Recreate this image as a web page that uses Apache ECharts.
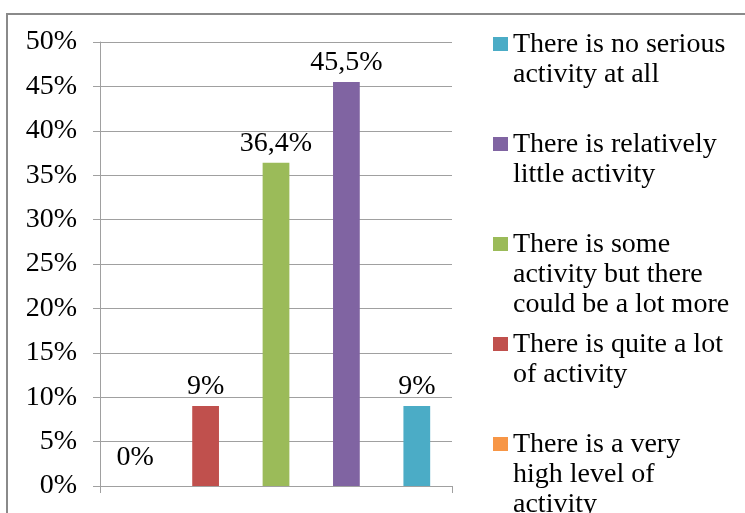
<!DOCTYPE html>
<html>
<head>
<meta charset="utf-8">
<title>Level of activity</title>
<script src="https://cdn.jsdelivr.net/npm/echarts@6/dist/echarts.min.js"></script>
<style>
  html, body { margin: 0; padding: 0; background: #ffffff; }
  #chart { width: 745px; height: 513px; }
</style>
</head>
<body>
<div id="chart"></div>
<script>
// Answer categories, left to right along the x axis
const categories = [
  'There is a very high level of activity',
  'There is quite a lot of activity',
  'There is some activity but there could be a lot more',
  'There is relatively little activity',
  'There is no serious activity at all'
];

// Share of respondents per answer, in percent
const values = [0, 9, 36.4, 45.5, 9];

// Bar colour per answer
const colors = ['#F79646', '#C0504D', '#9BBB59', '#8064A2', '#4BACC6'];

// Wrapped legend text per answer (every entry padded to three lines)
const legendLines = [
  'There is a very\nhigh level of\nactivity',
  'There is quite a lot\nof activity\n ',
  'There is some\nactivity but there\ncould be a lot more',
  'There is relatively\nlittle activity\n ',
  'There is no serious\nactivity at all\n '
];

// Y axis range and step (percent)
const yMin = 0;
const yMax = 50;
const yStep = 5;

const FONT = '"Liberation Serif", "Times New Roman", serif';
const GRID_GRAY = '#a0a0a0';

const chart = echarts.init(document.getElementById('chart'), null, { renderer: 'canvas' });

// One series per answer, stacked into its own category slot so the legend lists each answer
const series = categories.map((name, i) => ({
  name: name,
  type: 'bar',
  stack: 'answers',
  barWidth: '38%',
  itemStyle: { color: colors[i] },
  data: categories.map((_, j) => (j === i ? values[i] : '-')),
  label: {
    show: true,
    position: 'top',
    distance: values[i] === 0 ? 14 : 5,
    fontFamily: FONT,
    fontSize: 28,
    color: '#000',
    formatter: p => String(p.value).replace('.', ',') + '%'
  }
}));

const legendText = {};
categories.forEach((c, i) => { legendText[c] = legendLines[i]; });

// Square swatch sitting level with the first text line of a three-line entry
const swatch = 'path://M0,7h15v14h-15z M0,0h0.01v0.01h-0.01z M0,90h0.01v0.01h-0.01z';

chart.setOption({
  animation: false,
  backgroundColor: '#ffffff',
  grid: { left: 100, right: 293, top: 42, bottom: 27 },
  xAxis: {
    type: 'category',
    data: categories,
    boundaryGap: true,
    axisLine: { show: true, lineStyle: { color: GRID_GRAY, width: 1 } },
    axisTick: { show: true, length: 7, inside: false, alignWithLabel: false, lineStyle: { color: GRID_GRAY } },
    axisLabel: { show: false }
  },
  yAxis: {
    type: 'value',
    min: yMin,
    max: yMax,
    interval: yStep,
    axisLine: { show: true, lineStyle: { color: GRID_GRAY, width: 1 } },
    axisTick: { show: true, length: 7, lineStyle: { color: GRID_GRAY } },
    axisLabel: {
      margin: 23,
      fontFamily: FONT,
      fontSize: 28,
      color: '#000',
      formatter: '{value}%'
    },
    splitLine: { show: true, lineStyle: { color: GRID_GRAY, width: 1 } }
  },
  legend: {
    type: 'plain',
    orient: 'vertical',
    left: 493,
    top: 30,
    width: 260,
    height: 700,
    padding: 0,
    itemGap: 10,
    itemWidth: 15,
    itemHeight: 90,
    icon: swatch,
    selectedMode: false,
    data: categories.slice().reverse(),
    formatter: name => legendText[name],
    textStyle: {
      fontFamily: FONT,
      fontSize: 28,
      lineHeight: 30,
      color: '#000'
    }
  },
  graphic: [{
    type: 'rect',
    silent: true,
    z: -1,
    shape: { x: 7, y: 14, width: 800, height: 600 },
    style: { fill: 'none', stroke: '#8a8a8a', lineWidth: 2 }
  }],
  series: series
});
</script>
</body>
</html>
